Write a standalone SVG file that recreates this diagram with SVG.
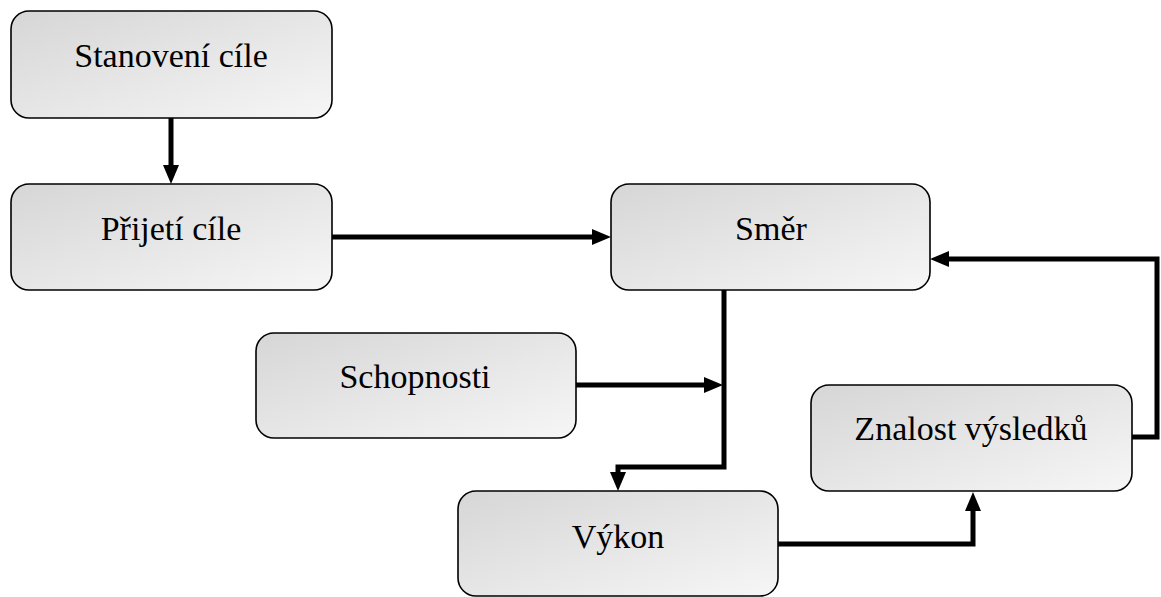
<svg xmlns="http://www.w3.org/2000/svg" width="1161" height="597" viewBox="0 0 1161 597">
<defs>
<linearGradient id="g" x1="0" y1="0" x2="1" y2="1">
<stop offset="0" stop-color="#d6d6d6"/>
<stop offset="1" stop-color="#f6f6f6"/>
</linearGradient>
<marker id="ah" markerUnits="userSpaceOnUse" markerWidth="20" markerHeight="18" refX="9" refY="8" orient="auto" viewBox="0 0 20 18">
<path d="M0,0 L19,8 L0,16 z" fill="#000"/>
</marker>
<style>
.box{fill:url(#g);stroke:#000;stroke-width:1.6}
.lbl{font-family:"Liberation Serif","Times New Roman",serif;font-size:34px;fill:#000;text-anchor:middle}
.con{fill:none;stroke:#000;stroke-width:5;stroke-linejoin:miter;marker-end:url(#ah)}
</style>
</defs>
<rect width="1161" height="597" fill="#fff"/>
<g id="connectors">
<path class="con" d="M171,118 V174"/>
<path class="con" d="M332,237 H601"/>
<path class="con" d="M724,290 V467 H618 V481"/>
<path class="con" d="M576,385 H713"/>
<path class="con" d="M778,544 H973 V502"/>
<path class="con" d="M1131,437 H1157 V259 H940"/>
</g>
<g id="stanoveni">
<rect class="box" x="11" y="11" width="321" height="107" rx="18"/>
<text class="lbl" x="171" y="67">Stanovení cíle</text>
</g>
<g id="prijeti">
<rect class="box" x="11" y="184" width="321" height="106" rx="18"/>
<text class="lbl" x="171" y="240">Přijetí cíle</text>
</g>
<g id="smer">
<rect class="box" x="611" y="184" width="319" height="106" rx="18"/>
<text class="lbl" x="771" y="240">Směr</text>
</g>
<g id="schopnosti">
<rect class="box" x="256" y="333" width="320" height="105" rx="18"/>
<text class="lbl" x="415" y="388">Schopnosti</text>
</g>
<g id="vykon">
<rect class="box" x="458" y="491" width="320" height="105" rx="18"/>
<text class="lbl" x="618" y="548">Výkon</text>
</g>
<g id="znalost">
<rect class="box" x="811" y="385" width="321" height="106" rx="18"/>
<text class="lbl" x="971" y="440">Znalost výsledků</text>
</g>
</svg>
